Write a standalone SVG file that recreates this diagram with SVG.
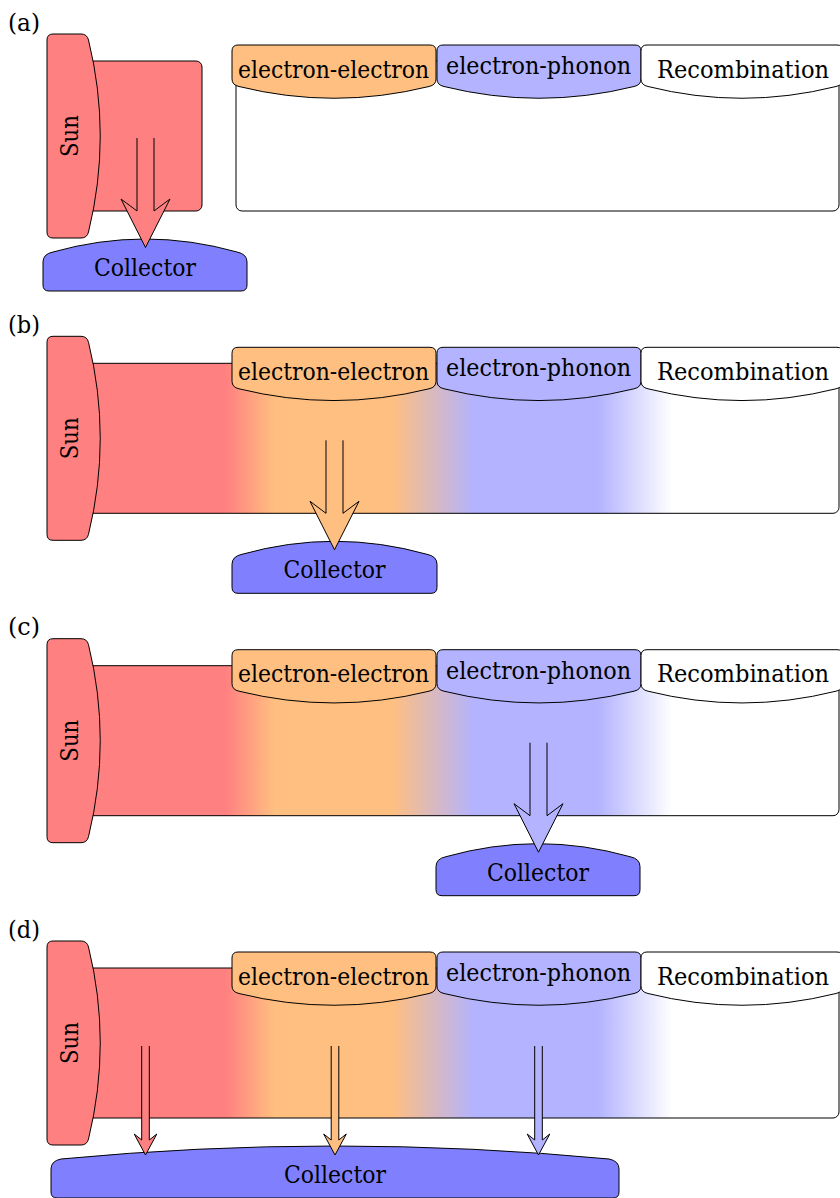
<svg xmlns="http://www.w3.org/2000/svg" width="840" height="1198" viewBox="0 0 840 1198" font-family="'DejaVu Serif', serif">
<defs>
<style>
text{font-size:24px;fill:#000}
.lbl{text-anchor:start}
.c{text-anchor:middle}
.ln{stroke:#000;stroke-width:1;stroke-linejoin:round}
.red{fill:#FF8080}
.org{fill:#FFBF80}
.blu{fill:#B3B3FF}
.col{fill:#8080FF}
.wht{fill:#FFFFFF}
.band{fill:url(#grad)}
.arr{stroke:#000;stroke-width:1;stroke-linejoin:miter;stroke-miterlimit:10}
</style>
<linearGradient id="grad" gradientUnits="userSpaceOnUse" x1="0" y1="0" x2="840" y2="0">
<stop offset="0.268" stop-color="#FF8080"/>
<stop offset="0.327" stop-color="#FFBF80"/>
<stop offset="0.467" stop-color="#FFBF80"/>
<stop offset="0.565" stop-color="#B3B3FF"/>
<stop offset="0.712" stop-color="#B3B3FF"/>
<stop offset="0.800" stop-color="#FFFFFF"/>
</linearGradient>
<path id="sunShape" d="M53,34 H81 Q87,34 88.5,40 Q112,136 88.5,232 Q87,238 81,238 H53 Q47,238 47,232 V40 Q47,34 53,34 Z"/>
<path id="tabEE" d="M238,45 H430 Q436,45 436,51 V79 Q436,85 429,86.5 Q334,110 239,86.5 Q232,85 232,79 V51 Q232,45 238,45 Z"/>
<path id="tabEP" d="M443,45 H635 Q641,45 641,51 V79 Q641,85 634,86.5 Q539,110 444,86.5 Q437,85 437,79 V51 Q437,45 443,45 Z"/>
<path id="tabRC" d="M647,45 H837 Q843,45 843,51 V79 Q843,85 836,86.5 Q742,110 648,86.5 Q641,85 641,79 V51 Q641,45 647,45 Z"/>
</defs>
<rect width="840" height="1198" fill="#FFFFFF"/>

<!-- Panel (a) -->
<g id="panel-a">
<text class="lbl" x="8" y="30.5" textLength="32" lengthAdjust="spacingAndGlyphs">(a)</text>
<g id="a-bands">
<rect class="red ln" x="86" y="61" width="116" height="150" rx="6"/>
<rect class="wht ln" x="236" y="61" width="603" height="150" rx="6"/>
</g>
<g id="a-sun"><use href="#sunShape" class="red ln"/><text class="c" transform="translate(78,136) rotate(-90)" textLength="42" lengthAdjust="spacingAndGlyphs">Sun</text></g>
<g id="a-ee"><use href="#tabEE" class="org ln"/><text class="c" x="333.5" y="77.5" textLength="191" lengthAdjust="spacingAndGlyphs">electron-electron</text></g>
<g id="a-ep"><use href="#tabEP" class="blu ln"/><text class="c" x="538.5" y="74" textLength="185" lengthAdjust="spacingAndGlyphs">electron-phonon</text></g>
<g id="a-rc"><use href="#tabRC" class="wht ln"/><text class="c" x="743" y="77.5" textLength="172" lengthAdjust="spacingAndGlyphs">Recombination</text></g>
<g id="a-collector"><path class="col ln" d="M53,252 Q145,226 237,252 Q247,254 247,262 V285 Q247,291 241,291 H49 Q43,291 43,285 V262 Q43,254 53,252 Z"/><text class="c" x="145" y="276" textLength="102" lengthAdjust="spacingAndGlyphs">Collector</text></g>
</g>

<!-- Panel (b) -->
<g id="panel-b" transform="translate(0,302.3)">
<text class="lbl" x="8" y="30.5" textLength="32" lengthAdjust="spacingAndGlyphs">(b)</text>
<g id="b-band"><rect class="band ln" x="86" y="61" width="753" height="150" rx="6"/></g>
<g id="b-sun"><use href="#sunShape" class="red ln"/><text class="c" transform="translate(78,136) rotate(-90)" textLength="42" lengthAdjust="spacingAndGlyphs">Sun</text></g>
<g id="b-ee"><use href="#tabEE" class="org ln"/><text class="c" x="333.5" y="77.5" textLength="191" lengthAdjust="spacingAndGlyphs">electron-electron</text></g>
<g id="b-ep"><use href="#tabEP" class="blu ln"/><text class="c" x="538.5" y="74" textLength="185" lengthAdjust="spacingAndGlyphs">electron-phonon</text></g>
<g id="b-rc"><use href="#tabRC" class="wht ln"/><text class="c" x="743" y="77.5" textLength="172" lengthAdjust="spacingAndGlyphs">Recombination</text></g>
<g id="b-collector"><path class="col ln" d="M242,252 Q334.5,226 427,252 Q437,254 437,262 V285 Q437,291 431,291 H238 Q232,291 232,285 V262 Q232,254 242,252 Z"/><text class="c" x="334.5" y="276" textLength="102" lengthAdjust="spacingAndGlyphs">Collector</text></g>
</g>

<!-- Panel (c) -->
<g id="panel-c" transform="translate(0,604.7)">
<text class="lbl" x="8" y="30.5" textLength="32" lengthAdjust="spacingAndGlyphs">(c)</text>
<g id="c-band"><rect class="band ln" x="86" y="61" width="753" height="150" rx="6"/></g>
<g id="c-sun"><use href="#sunShape" class="red ln"/><text class="c" transform="translate(78,136) rotate(-90)" textLength="42" lengthAdjust="spacingAndGlyphs">Sun</text></g>
<g id="c-ee"><use href="#tabEE" class="org ln"/><text class="c" x="333.5" y="77.5" textLength="191" lengthAdjust="spacingAndGlyphs">electron-electron</text></g>
<g id="c-ep"><use href="#tabEP" class="blu ln"/><text class="c" x="538.5" y="74" textLength="185" lengthAdjust="spacingAndGlyphs">electron-phonon</text></g>
<g id="c-rc"><use href="#tabRC" class="wht ln"/><text class="c" x="743" y="77.5" textLength="172" lengthAdjust="spacingAndGlyphs">Recombination</text></g>
<g id="c-collector"><path class="col ln" d="M446,252 Q538,226 630,252 Q640,254 640,262 V285 Q640,291 634,291 H442 Q436,291 436,285 V262 Q436,254 446,252 Z"/><text class="c" x="538" y="276" textLength="102" lengthAdjust="spacingAndGlyphs">Collector</text></g>
</g>

<!-- Panel (d) -->
<g id="panel-d" transform="translate(0,907)">
<text class="lbl" x="8" y="30.5" textLength="32" lengthAdjust="spacingAndGlyphs">(d)</text>
<g id="d-band"><rect class="band ln" x="86" y="61" width="753" height="150" rx="6"/></g>
<g id="d-sun"><use href="#sunShape" class="red ln"/><text class="c" transform="translate(78,136) rotate(-90)" textLength="42" lengthAdjust="spacingAndGlyphs">Sun</text></g>
<g id="d-ee"><use href="#tabEE" class="org ln"/><text class="c" x="333.5" y="77.5" textLength="191" lengthAdjust="spacingAndGlyphs">electron-electron</text></g>
<g id="d-ep"><use href="#tabEP" class="blu ln"/><text class="c" x="538.5" y="74" textLength="185" lengthAdjust="spacingAndGlyphs">electron-phonon</text></g>
<g id="d-rc"><use href="#tabRC" class="wht ln"/><text class="c" x="743" y="77.5" textLength="172" lengthAdjust="spacingAndGlyphs">Recombination</text></g>
<g id="d-collector"><path class="col ln" d="M61,252 Q335,226 609,252 Q619,254 619,262 V285 Q619,291 613,291 H57 Q51,291 51,285 V262 Q51,254 61,252 Z"/><text class="c" x="335" y="276" textLength="102" lengthAdjust="spacingAndGlyphs">Collector</text></g>
</g>

<!-- Connectors -->
<g id="connectors">
<path id="arrow-a" class="red arr" d="M137,138 V211 L121,199 L145.5,247.5 L170,199 L154,211 V138"/>
<path id="arrow-b" class="org arr" transform="translate(0,302.3)" d="M326,138 V211 L310,199 L334.5,247.5 L359,199 L343,211 V138"/>
<path id="arrow-c" class="blu arr" transform="translate(0,604.7)" d="M530,138 V211 L514,199 L538.5,247.5 L563,199 L547,211 V138"/>
<g transform="translate(0,907)">
<path id="arrow-d1" class="red arr" d="M141.7,139 V233 L134.2,227 L145.5,248 L156.8,227 L149.3,233 V139"/>
<path id="arrow-d2" class="org arr" d="M331.2,139 V233 L323.7,227 L335,248 L346.3,227 L338.8,233 V139"/>
<path id="arrow-d3" class="blu arr" d="M534.7,139 V233 L527.2,227 L538.5,248 L549.8,227 L542.3,233 V139"/>
</g>
</g>
</svg>
